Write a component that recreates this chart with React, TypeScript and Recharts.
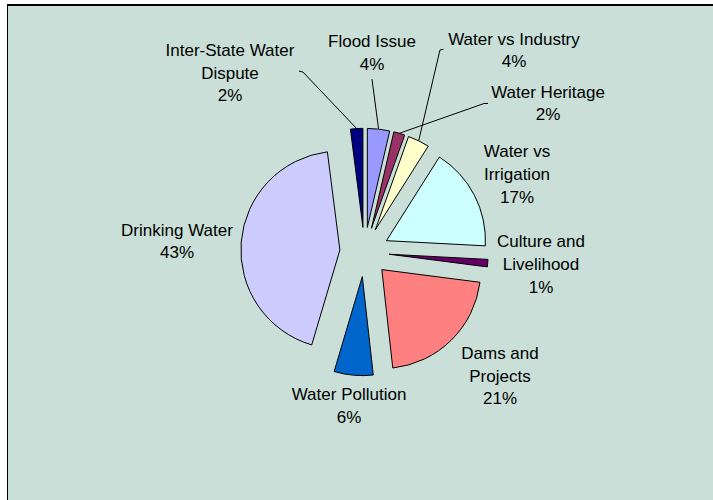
import { PieChart, Pie, Cell, Sector, Tooltip } from 'recharts';

// slices clockwise from 12 o'clock
const CATEGORIES = [
  'Flood Issue',
  'Water Heritage',
  'Water vs Industry',
  'Water vs Irrigation',
  'Culture and Livelihood',
  'Dams and Projects',
  'Water Pollution',
  'Drinking Water',
  'Inter-State Water Dispute',
];
const VALUES = [3.6, 1.8, 3.5, 16.7, 1.2, 21, 6.3, 43, 2];
const LABEL_LINES = [
  ['Flood Issue'],
  ['Water Heritage'],
  ['Water vs Industry'],
  ['Water vs', 'Irrigation'],
  ['Culture and', 'Livelihood'],
  ['Dams and', 'Projects'],
  ['Water Pollution'],
  ['Drinking Water'],
  ['Inter-State Water', 'Dispute'],
];

const COLORS = ['#9999FF', '#993366', '#FFFFCC', '#CCFFFF', '#660066', '#FF8080', '#0066CC', '#CCCCFF', '#000080'];

// label centre relative to the slice's outer mid point
const LABEL_OFFSETS: [number, number][] = [
  [-6.6, -76], [148.7, -29.8], [95.3, -90.3], [42.6, -20.7], [53.3, 1.3],
  [48.8, 35.8], [-4.5, 30.8], [-64.2, -0.6], [-126.7, -55.5],
];
// leader line ends, relative to label centre
const LEADERS: ([number, number][] | null)[] = [
  [[0, 26]],
  [[-64, 0], [-60, 0]],
  [[-74, -0.5], [-70.5, -1.2]],
  null, null, null, null, null,
  [[73, -1], [69, -2]],
];

const data = CATEGORIES.map((name, i) => ({ name, value: VALUES[i] }));

const EXPLODE = 24.7;
const RAD = Math.PI / 180;
const LINE_H = 22.7;
const FONT = '"Liberation Sans", Arial, sans-serif';

function ExplodedSector(props: any) {
  const { cx, cy, midAngle } = props;
  const ox = EXPLODE * Math.cos(-midAngle * RAD);
  const oy = EXPLODE * Math.sin(-midAngle * RAD);
  return <Sector {...props} cx={cx + ox} cy={cy + oy} stroke="#000" strokeWidth={1} />;
}

function renderLabel(props: any) {
  const { cx, cy, midAngle, outerRadius, percent, index } = props;
  const r = outerRadius + EXPLODE;
  const px = cx + r * Math.cos(-midAngle * RAD);
  const py = cy + r * Math.sin(-midAngle * RAD);
  const [dx, dy] = LABEL_OFFSETS[index];
  const lx = px + dx;
  const ly = py + dy;
  const lines = [...LABEL_LINES[index], `${Math.round(percent * 100)}%`];
  const leader = LEADERS[index];
  return (
    <g key={`label-${index}`}>
      {leader && (
        <polyline
          points={[[px, py], ...leader.map(([a, b]) => [lx + a, ly + b])].map((p) => p.join(',')).join(' ')}
          fill="none"
          stroke="#000"
          strokeWidth={1}
        />
      )}
      {lines.map((t, k) => (
        <text
          key={k}
          x={lx}
          y={ly + (k - (lines.length - 1) / 2) * LINE_H}
          textAnchor="middle"
          dominantBaseline="central"
          fontFamily={FONT}
          fontSize={17}
          fill="#000"
        >
          {t}
        </text>
      ))}
    </g>
  );
}

export default function App() {
  return (
    <div style={{ position: 'absolute', left: 0, top: 0, width: 713, height: 500, overflow: 'hidden' }}>
      <div
        style={{
          position: 'absolute',
          left: 7,
          top: 4,
          width: 740,
          height: 540,
          background: '#C9DFD7',
          borderTop: '2px solid #000',
          borderLeft: '1.5px solid #000',
        }}
      />
      <div style={{ position: 'absolute', left: 0, top: 0 }}>
        <PieChart width={713} height={500} margin={{ top: 0, right: 0, bottom: 0, left: 0 }}>
          <Pie
            data={data}
            dataKey="value"
            nameKey="name"
            cx={364.5}
            cy={252}
            outerRadius={99}
            startAngle={90}
            endAngle={-270}
            stroke="#000"
            strokeWidth={1}
            shape={ExplodedSector}
            activeShape={ExplodedSector}
            inactiveShape={ExplodedSector}
            label={renderLabel}
            labelLine={false}
            isAnimationActive={false}
          >
            {data.map((d, i) => (
              <Cell key={d.name} fill={COLORS[i]} />
            ))}
          </Pie>
          <Tooltip defaultIndex={0} content={() => null} />
        </PieChart>
      </div>
    </div>
  );
}
